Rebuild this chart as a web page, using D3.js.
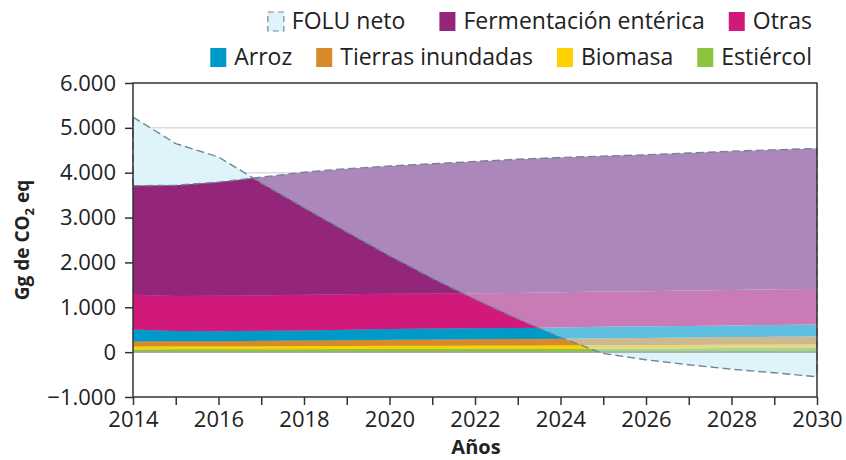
<!DOCTYPE html>
<html>
  <head>
    <meta charset="utf-8">
    <title>emisiones agricultura y FOLU</title>
    <script src="https://cdn.jsdelivr.net/npm/d3@7"></script>
  </head>
  <style>
    body { margin: 0; background: #fff; }
    text { font-family: "Open Sans", "Liberation Sans", sans-serif; fill: #222; }
    .grid-line { stroke: #dcdcdc; stroke-width: 1.5px; }
    .axis path, .axis line { stroke: #333; stroke-width: 1.5px; }
    .axis text { font-size: 22px; }
  </style>
  <body>
    <script>
      const width = 846;
      const height = 460;
      const plot = {left: 133, right: 817, top: 83, bottom: 397};

      // data (Gg CO2 eq)
      const years = [2014, 2015, 2016, 2017, 2018, 2019, 2020, 2021, 2022, 2023, 2024, 2025, 2026, 2027, 2028, 2029, 2030];
      const estiercol = [60, 62, 63, 65, 67, 69, 71, 72, 74, 75, 77, 80, 83, 87, 90, 93, 97];
      const biomasa = [67, 67, 68, 69, 70, 70, 71, 72, 72, 73, 74, 74, 74, 73, 73, 73, 73];
      const tierrasInundadas = [113, 113, 114, 118, 123, 128, 133, 139, 144, 147, 149, 154, 158, 165, 172, 176, 180];
      const arroz = [265, 228, 223, 223, 225, 233, 240, 242, 245, 245, 250, 257, 260, 260, 260, 263, 265];
      const otras = [775, 780, 787, 790, 795, 790, 785, 785, 780, 780, 785, 785, 785, 790, 790, 795, 795];
      const fermentacion = [2430, 2470, 2535, 2635, 2730, 2800, 2850, 2890, 2935, 2980, 3005, 3020, 3040, 3065, 3095, 3110, 3130];
      const foluNeto = [5240, 4650, 4350, 3770, 3220, 2680, 2150, 1650, 1180, 740, 330, -30, -170, -280, -380, -460, -550];

      const yTicks = [-1000, 0, 1000, 2000, 3000, 4000, 5000, 6000];
      const xTicks = years;

      const seriesInfo = [
        {key: "estiercol", name: "Estiércol", values: estiercol, color: "#8cc43f", faded: "#a9d38f"},
        {key: "biomasa", name: "Biomasa", values: biomasa, color: "#fdd000", faded: "#e4d97c"},
        {key: "tierras", name: "Tierras inundadas", values: tierrasInundadas, color: "#d8892a", faded: "#cdb98d"},
        {key: "arroz", name: "Arroz", values: arroz, color: "#009ac8", faded: "#5ebfe0"},
        {key: "otras", name: "Otras", values: otras, color: "#d0197b", faded: "#c97bb6"},
        {key: "fermentacion", name: "Fermentación entérica", values: fermentacion, color: "#93267b", faded: "#ab87bb"}
      ];
      const foluFill = "#dff3fb";
      const dashColor = "#6f8794";

      const table = years.map(function(y, i) {
        const row = {year: y, folu: foluNeto[i]};
        seriesInfo.forEach(function(s) { row[s.key] = s.values[i]; });
        return row;
      });

      const stack = d3.stack().keys(seriesInfo.map(function(s) { return s.key; }));
      const series = stack(table);

      const xScale = d3.scaleLinear().domain([2014, 2030]).range([plot.left, plot.right]);
      const yScale = d3.scaleLinear().domain([-1000, 6000]).range([plot.bottom, plot.top]);

      const svg = d3.select("body").append("svg")
          .attr("width", width)
          .attr("height", height);

      // grid
      svg.append("g").selectAll("line")
        .data(yTicks.filter(function(t) { return t !== 6000 && t !== -1000; }))
        .enter().append("line")
          .classed("grid-line", true)
          .attr("x1", plot.left).attr("x2", plot.right)
          .attr("y1", function(d) { return yScale(d); })
          .attr("y2", function(d) { return yScale(d); });

      // FOLU area from zero
      const foluArea = d3.area()
        .x(function(d) { return xScale(d.year); })
        .y0(yScale(0))
        .y1(function(d) { return yScale(d.folu); });

      svg.append("path")
        .datum(table)
        .attr("fill", foluFill)
        .attr("d", foluArea);

      // clip: everything under the FOLU line
      const clipArea = d3.area()
        .x(function(d) { return xScale(d.year); })
        .y0(yScale(-1000))
        .y1(function(d) { return yScale(d.folu); });

      svg.append("clipPath").attr("id", "under-folu")
        .append("path").datum(table).attr("d", clipArea);

      const stackArea = d3.area()
        .x(function(d) { return xScale(d.data.year); })
        .y0(function(d) { return yScale(d[0]); })
        .y1(function(d) { return yScale(d[1]); });

      // faded stack
      svg.append("g").selectAll("path")
        .data(series)
        .enter().append("path")
          .attr("fill", function(d, i) { return seriesInfo[i].faded; })
          .attr("d", stackArea);

      // full colour stack, only below the FOLU line
      svg.append("g")
          .attr("clip-path", "url(#under-folu)")
        .selectAll("path")
        .data(series)
        .enter().append("path")
          .attr("fill", function(d, i) { return seriesInfo[i].color; })
          .attr("d", stackArea);

      // zero line
      svg.append("line")
        .attr("x1", plot.left).attr("x2", plot.right)
        .attr("y1", yScale(0)).attr("y2", yScale(0))
        .attr("stroke", "#97a39a").attr("stroke-width", 1.2);

      // dashed outlines
      const topLayer = series[series.length - 1];
      const line = d3.line()
        .x(function(d) { return xScale(d[0]); })
        .y(function(d) { return yScale(d[1]); });

      const dashed = [
        years.map(function(y, i) { return [y, foluNeto[i]]; }),
        topLayer.map(function(d) { return [d.data.year, d[1]]; }),
        [[2014, topLayer[0][1]], [2014, foluNeto[0]]],
        [[2030, topLayer[topLayer.length - 1][1]], [2030, foluNeto[foluNeto.length - 1]]]
      ];

      svg.append("g").selectAll("path")
        .data(dashed)
        .enter().append("path")
          .attr("fill", "none")
          .attr("stroke", dashColor)
          .attr("stroke-width", 1.4)
          .attr("stroke-dasharray", "8,4")
          .attr("d", line);

      // axes
      svg.append("g")
          .classed("axis", true)
          .attr("transform", "translate(0," + plot.bottom + ")")
          .call(d3.axisBottom(xScale)
            .tickValues(xTicks)
            .tickSize(8)
            .tickPadding(6)
            .tickFormat(function(d) { return d % 2 === 0 ? d : ""; }));

      svg.append("g")
          .classed("axis", true)
          .attr("transform", "translate(" + plot.left + ",0)")
          .call(d3.axisLeft(yScale)
            .tickValues(yTicks)
            .tickSize(8)
            .tickPadding(9)
            .tickFormat(function(d) { return d3.format(",")(d).replace(/,/g, "."); }));

      svg.selectAll(".axis .domain").attr("d", null);
      // frame
      svg.append("rect")
        .attr("x", plot.left).attr("y", plot.top)
        .attr("width", plot.right - plot.left)
        .attr("height", plot.bottom - plot.top)
        .attr("fill", "none")
        .attr("stroke", "#333")
        .attr("stroke-width", 1.5);

      // axis titles
      svg.append("text")
        .attr("x", 476)
        .attr("y", 454)
        .attr("text-anchor", "middle")
        .style("font-size", "20px")
        .style("font-weight", "bold")
        .text("Años");

      const yTitle = svg.append("text")
        .attr("transform", "translate(29," + ((plot.top + plot.bottom) / 2) + ") rotate(-90)")
        .attr("text-anchor", "middle")
        .style("font-size", "19px")
        .style("font-weight", "bold");
      yTitle.append("tspan").text("Gg de CO");
      yTitle.append("tspan").attr("dy", 5).style("font-size", "13px").text("2");
      yTitle.append("tspan").attr("dy", -5).text(" eq");

      // legend
      const legendRows = [
        [{name: "FOLU neto", folu: true}, seriesInfo[5], seriesInfo[4]],
        [seriesInfo[3], seriesInfo[2], seriesInfo[1], seriesInfo[0]]
      ];
      const legendRight = 812;
      const swatchW = 16;
      const swatchH = 19;
      const textGap = 8;
      const itemGap = 24;

      legendRows.forEach(function(row, r) {
        const baseY = 29 + r * 36;
        const g = svg.append("g");
        const items = row.map(function(item) {
          const t = g.append("text")
            .attr("y", baseY)
            .style("font-size", "23px")
            .text(item.name);
          return {item: item, text: t, w: t.node().getComputedTextLength()};
        });
        let x = legendRight;
        for (let i = items.length - 1; i >= 0; i--) {
          const it = items[i];
          x -= it.w;
          it.text.attr("x", x);
          x -= textGap + swatchW;
          const sw = g.append("rect")
            .attr("x", x).attr("y", baseY - 17)
            .attr("width", swatchW).attr("height", swatchH);
          if (it.item.folu) {
            sw.attr("fill", foluFill)
              .attr("stroke", dashColor)
              .attr("stroke-width", 1.2)
              .attr("stroke-dasharray", "6,4");
          } else {
            sw.attr("fill", it.item.color);
          }
          x -= (i === 1 && r === 0) ? 34 : itemGap;
        }
      });
    </script>
  </body>
</html>
